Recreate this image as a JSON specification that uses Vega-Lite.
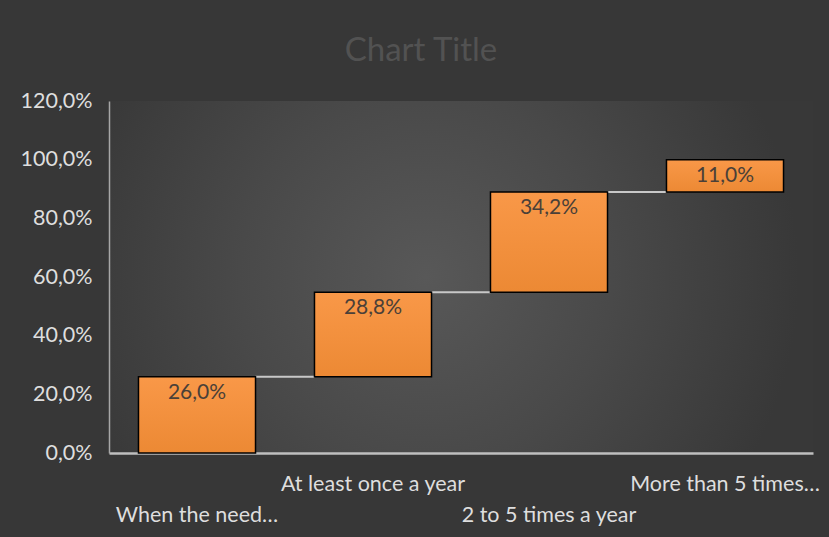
{
  "$schema": "https://vega.github.io/schema/vega-lite/v6.json",
  "width": 704,
  "height": 352,
  "autosize": {"type": "none"},
  "padding": {"left": 109, "top": 101, "right": 16, "bottom": 84},
  "background": "#373737",
  "view": {"stroke": null, "fill": {"gradient": "radial", "x1": 0.45, "y1": 0.5, "r1": 0, "x2": 0.45, "y2": 0.5, "r2": 0.53, "stops": [{"offset": 0, "color": "#585858"}, {"offset": 0.5, "color": "#494949"}, {"offset": 1, "color": "#383838"}]}},
  "title": {"text": "Chart Title", "font": "Lato", "fontSize": 33, "fontWeight": "normal", "color": "#525252", "anchor": "middle", "dx": -40, "dy": 7, "offset": 3, "baseline": "alphabetic"},
  "datasets": {
    "bars": [
      {"cat": "When the need…", "start": 0, "end": 0.26, "delta": 0.26},
      {"cat": "At least once a year", "start": 0.26, "end": 0.548, "delta": 0.288},
      {"cat": "2 to 5 times a year", "start": 0.548, "end": 0.89, "delta": 0.342},
      {"cat": "More than 5 times…", "start": 0.89, "end": 1.0, "delta": 0.11}
    ],
    "links": [
      {"from": "When the need…", "to": "At least once a year", "level": 0.26},
      {"from": "At least once a year", "to": "2 to 5 times a year", "level": 0.548},
      {"from": "2 to 5 times a year", "to": "More than 5 times…", "level": 0.89}
    ]
  },
  "layer": [
    {
      "data": {"name": "links"},
      "mark": {"type": "rule", "color": "#c8c8c8", "strokeWidth": 2},
      "encoding": {
        "x": {"field": "from", "type": "nominal", "bandPosition": 1},
        "x2": {"field": "to", "bandPosition": 0},
        "y": {"field": "level", "type": "quantitative"}
      }
    },
    {
      "data": {"name": "bars"},
      "mark": {"type": "bar", "stroke": "#000000", "strokeWidth": 1.5, "fill": {"gradient": "linear", "x1": 0, "y1": 0, "x2": 0, "y2": 1, "stops": [{"offset": 0, "color": "#f99848"}, {"offset": 1, "color": "#ec8934"}]}},
      "encoding": {
        "x": {"field": "cat", "type": "nominal"},
        "y": {"field": "start", "type": "quantitative"},
        "y2": {"field": "end"}
      }
    },
    {
      "data": {"name": "bars"},
      "mark": {"type": "text", "font": "Lato", "fontSize": 21, "color": "#4a4038", "baseline": "middle", "dy": 16},
      "encoding": {
        "x": {"field": "cat", "type": "nominal"},
        "y": {"field": "end", "type": "quantitative"},
        "text": {"field": "delta", "type": "quantitative", "format": ".1%"}
      }
    }
  ],
  "encoding": {
    "x": {
      "field": "cat", "type": "nominal",
      "scale": {"domain": ["When the need…", "At least once a year", "2 to 5 times a year", "More than 5 times…"], "paddingInner": 0.335, "paddingOuter": 0.1675},
      "axis": {
        "title": null, "labelAngle": 0, "ticks": false, "domainColor": "#bfbfbf", "domainWidth": 2.5,
        "labelFont": "Lato", "labelFontSize": 21.5, "labelColor": "#dedede", "labelOverlap": false, "labelBound": false, "labelLimit": 0,
        "labelPadding": {"condition": {"test": "datum.value === 'When the need…' || datum.value === '2 to 5 times a year'", "value": 51}, "value": 20}
      }
    },
    "y": {
      "type": "quantitative",
      "scale": {"domain": [0, 1.2], "nice": false},
      "axis": {
        "title": null, "values": [0, 0.2, 0.4, 0.6, 0.8, 1.0, 1.2], "format": ".1%", "grid": false, "ticks": false,
        "domainColor": "#a6a6a6", "domainWidth": 1.5, "labelFont": "Lato", "labelFontSize": 21.5, "labelColor": "#dedede", "labelPadding": 17
      }
    }
  },
  "config": {
    "locale": {"number": {"decimal": ",", "thousands": ".", "grouping": [3], "currency": ["", " €"]}}
  }
}
